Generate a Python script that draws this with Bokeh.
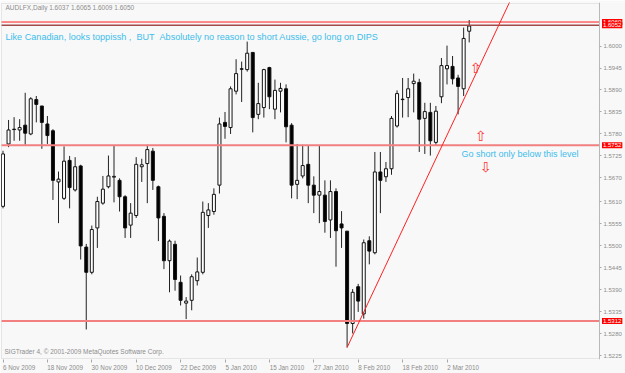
from bokeh.plotting import figure
from bokeh.models import Range1d, FixedTicker, Label, PrintfTickFormatter, BoxAnnotation
from bokeh.embed import file_html
from bokeh.resources import INLINE

# ---- data ----
opens = [1.5599, 1.5755, 1.5792, 1.5790, 1.5802, 1.5780, 1.5866, 1.5850, 1.5805, 1.5788,
         1.5660, 1.5619, 1.5714, 1.5640, 1.5700, 1.5497, 1.5434, 1.5545, 1.5607, 1.5648,
         1.5672, 1.5664, 1.5623, 1.5552, 1.5576, 1.5698, 1.5706, 1.5737, 1.5648, 1.5574,
         1.5463, 1.5504, 1.5409, 1.5357, 1.5364, 1.5413, 1.5434, 1.5576, 1.5586, 1.5652,
         1.5809, 1.5796, 1.5887, 1.5943, 1.5941, 1.5984, 1.5829, 1.5846, 1.5946, 1.5842,
         1.5887, 1.5893, 1.5802, 1.5654, 1.5675, 1.5704, 1.5652, 1.5627, 1.5627, 1.5565,
         1.5636, 1.5555, 1.5537, 1.5306, 1.5398, 1.5330, 1.5513, 1.5483, 1.5685, 1.5673,
         1.5693, 1.5800, 1.5867, 1.5871, 1.5906, 1.5909, 1.5819, 1.5834, 1.5759, 1.5873,
         1.5943, 1.5949, 1.5920, 1.5893, 1.6037]
highs = [1.5738, 1.5815, 1.5822, 1.5817, 1.5883, 1.5872, 1.5875, 1.5850, 1.5825, 1.5792,
         1.5686, 1.5749, 1.5725, 1.5722, 1.5703, 1.5505, 1.5551, 1.5623, 1.5675, 1.5726,
         1.5751, 1.5669, 1.5627, 1.5607, 1.5722, 1.5718, 1.5753, 1.5745, 1.5651, 1.5582,
         1.5516, 1.5513, 1.5426, 1.5372, 1.5429, 1.5471, 1.5611, 1.5607, 1.5644, 1.5821,
         1.5835, 1.5899, 1.5967, 1.5961, 1.6011, 1.5985, 1.5908, 1.5943, 1.5948, 1.5916,
         1.5908, 1.5904, 1.5807, 1.5755, 1.5753, 1.5751, 1.5674, 1.5751, 1.5664, 1.5664,
         1.5644, 1.5587, 1.5537, 1.5392, 1.5405, 1.5516, 1.5524, 1.5735, 1.5735, 1.5710,
         1.5825, 1.5889, 1.5920, 1.5920, 1.5931, 1.5918, 1.5858, 1.5858, 1.5850, 1.5970,
         1.6001, 1.5975, 1.5928, 1.6046, 1.6065]
lows = [1.5594, 1.5747, 1.5763, 1.5763, 1.5753, 1.5777, 1.5809, 1.5743, 1.5755, 1.5615,
        1.5557, 1.5615, 1.5594, 1.5636, 1.5466, 1.5291, 1.5429, 1.5495, 1.5603, 1.5644,
        1.5609, 1.5586, 1.5520, 1.5520, 1.5570, 1.5660, 1.5607, 1.5640, 1.5512, 1.5442,
        1.5384, 1.5388, 1.5351, 1.5317, 1.5339, 1.5401, 1.5429, 1.5545, 1.5578, 1.5631,
        1.5768, 1.5780, 1.5879, 1.5860, 1.5936, 1.5784, 1.5817, 1.5821, 1.5842, 1.5817,
        1.5834, 1.5759, 1.5619, 1.5617, 1.5669, 1.5607, 1.5582, 1.5557, 1.5533, 1.5520,
        1.5448, 1.5495, 1.5246, 1.5281, 1.5335, 1.5318, 1.5454, 1.5479, 1.5582, 1.5660,
        1.5678, 1.5796, 1.5821, 1.5822, 1.5834, 1.5735, 1.5730, 1.5726, 1.5751, 1.5857,
        1.5904, 1.5904, 1.5829, 1.5875, 1.6009]
closes = [1.5730, 1.5790, 1.5791, 1.5796, 1.5782, 1.5868, 1.5854, 1.5809, 1.5776, 1.5664,
          1.5667, 1.5712, 1.5646, 1.5698, 1.5500, 1.5434, 1.5541, 1.5611, 1.5642, 1.5675,
          1.5674, 1.5623, 1.5545, 1.5582, 1.5704, 1.5703, 1.5741, 1.5664, 1.5570, 1.5463,
          1.5512, 1.5416, 1.5364, 1.5362, 1.5423, 1.5435, 1.5584, 1.5590, 1.5629, 1.5805,
          1.5799, 1.5893, 1.5931, 1.5942, 1.5982, 1.5821, 1.5856, 1.5941, 1.5873, 1.5889,
          1.5894, 1.5798, 1.5652, 1.5664, 1.5701, 1.5652, 1.5627, 1.5636, 1.5561, 1.5636,
          1.5538, 1.5545, 1.5306, 1.5384, 1.5362, 1.5508, 1.5487, 1.5685, 1.5664, 1.5693,
          1.5819, 1.5881, 1.5866, 1.5893, 1.5912, 1.5817, 1.5836, 1.5763, 1.5837, 1.5951,
          1.5951, 1.5918, 1.5899, 1.6019, 1.6050]

tick_bars = [0, 8, 16, 24, 32, 40, 48, 56, 64, 72, 80]
tick_labels = ["6 Nov 2009", "18 Nov 2009", "30 Nov 2009", "10 Dec 2009", "22 Dec 2009",
               "5 Jan 2010", "15 Jan 2010", "27 Jan 2010", "8 Feb 2010", "18 Feb 2010",
               "2 Mar 2010"]
price_ticks = [1.6000, 1.5945, 1.5890, 1.5835, 1.5780, 1.5725, 1.5670, 1.5610, 1.5555,
               1.5500, 1.5445, 1.5390, 1.5335, 1.5280, 1.5225]
level_prices = [1.6060, 1.6052, 1.5752, 1.5312]
trend_bars = [62, 92]
trend_prices = [1.5246, 1.6131]
symbol = "AUDLFX,Daily"
last_ohlc = [1.6037, 1.6065, 1.6009, 1.6050]
comment_top = "Like Canadian, looks toppissh ,\u00a0 BUT \u00a0Absolutely no reason to short Aussie, go long on DIPS"
comment_level = "Go short only below this level"
copyright_text = "SIGTrader 4, \u00a9 2001-2009 MetaQuotes Software Corp."

# ---- layout ----
W, H = 625, 373
BAR_PX = 5.55
BAR0_PX = 2.5
PX_PER_PRICE = 4043.0
BG = "#F8F8F8"
GREY = "#8C8C8C"
FRAME_GREY = "#B8B8B8"
FONT = "Liberation Sans"


def px_to_bar(px):
    return (px - BAR0_PX) / BAR_PX


def py_to_price(py):
    return 1.6 - (py - 46) / PX_PER_PRICE


# plotting frame spans the whole width; the price scale sits inside it at x=599
X0, X1 = px_to_bar(0), px_to_bar(W)
Y0, Y1 = py_to_price(363), py_to_price(2)
XR = px_to_bar(599)

p = figure(width=W, height=H, x_range=Range1d(X0, X1), y_range=Range1d(Y0, Y1),
           output_backend="svg", toolbar_location=None, y_axis_location="right",
           min_border_left=0, min_border_top=2, min_border_right=0, min_border_bottom=10,
           background_fill_color=BG, border_fill_color=BG, outline_line_color=None)
p.grid.visible = False

# chart border (left, top, bottom)
p.add_layout(BoxAnnotation(left=px_to_bar(1), right=XR, top=py_to_price(3), bottom=py_to_price(362),
                           fill_alpha=0, fill_color=None, line_color=FRAME_GREY, line_width=1))

# x axis: minor ticks mark the dates, labels sit to the right of each mark
centers = [round(b + (len(t) * 1.55 + 0.6) / BAR_PX, 2) for b, t in zip(tick_bars, tick_labels)]
xa = p.xaxis[0]
xa.ticker = FixedTicker(ticks=centers, minor_ticks=tick_bars)
xa.major_label_overrides = {c: t for c, t in zip(centers, tick_labels)}
xa.major_tick_out = 0
xa.major_tick_in = 0
xa.minor_tick_out = 3
xa.minor_tick_in = 0
xa.minor_tick_line_color = "#A8A8A8"
xa.axis_line_color = None
xa.major_label_standoff = 1
xa.major_label_text_font = FONT
xa.major_label_text_font_size = "6.3px"
xa.major_label_text_color = GREY

# price scale, fixed at the right edge of the chart area
ya = p.yaxis[0]
ya.fixed_location = XR
ya.ticker = FixedTicker(ticks=price_ticks, minor_ticks=[])
ya.formatter = PrintfTickFormatter(format="%.4f")
ya.major_tick_out = 2
ya.major_tick_in = 0
ya.major_tick_line_color = "#A8A8A8"
ya.axis_line_color = FRAME_GREY
ya.major_label_standoff = 2
ya.major_label_text_font = FONT
ya.major_label_text_font_size = "6px"
ya.major_label_text_color = GREY

# candles
idx = list(range(len(opens)))
tops = [max(o, c) for o, c in zip(opens, closes)]
bots = [min(o, c) for o, c in zip(opens, closes)]
fills = ["white" if c >= o else "black" for o, c in zip(opens, closes)]
p.segment(x0=idx, y0=lows, x1=idx, y1=highs, line_color="#222222", line_width=1)
p.vbar(x=idx, top=tops, bottom=bots, width=0.54, fill_color=fills, line_color="#111111", line_width=1)

# horizontal levels (chart area only) and trend line
level_colors = ["#FF1A1A", "#A04A4A", "#F28080", "#F28080"]
level_widths = [1, 1.5, 2, 2]
p.segment(x0=[px_to_bar(1)] * len(level_prices), x1=[XR] * len(level_prices),
          y0=level_prices, y1=level_prices, line_color=level_colors, line_width=level_widths)
p.line(trend_bars, trend_prices, line_color="#FF2020", line_width=1)

# price boxes on the price scale
for lv in level_prices:
    p.add_layout(Label(x=px_to_bar(601.5), y=lv, text="%.4f" % lv, text_font=FONT,
                       text_font_size="6px", text_color="white", text_baseline="middle",
                       background_fill_color="#FF0000", padding=1))

title = symbol + " " + " ".join("%.4f" % v for v in last_ohlc)
p.add_layout(Label(x=px_to_bar(5), y=py_to_price(7), text=title, text_font=FONT,
                   text_font_size="6.5px", text_color=GREY, text_baseline="middle"))
p.add_layout(Label(x=px_to_bar(5), y=py_to_price(37), text=comment_top, text_font=FONT,
                   text_font_size="9.1px", text_color="#3DBDEB", text_baseline="middle"))
p.add_layout(Label(x=px_to_bar(461), y=py_to_price(155.5), text=comment_level, text_font=FONT,
                   text_font_size="9px", text_color="#3DBDEB", text_baseline="middle"))
p.add_layout(Label(x=px_to_bar(4), y=py_to_price(355), text=copyright_text, text_font=FONT,
                   text_font_size="6.5px", text_color=GREY, text_baseline="middle"))
for ax, ay, ch in [(475, 68.5, "\u21e7"), (480, 137.5, "\u21e7"), (485, 168, "\u21e9")]:
    p.add_layout(Label(x=px_to_bar(ax), y=py_to_price(ay), text=ch, text_font="DejaVu Sans",
                       text_font_size="14px", text_color="#FF3030", text_align="center",
                       text_baseline="middle"))

open("out.html", "w").write(file_html(p, INLINE))
